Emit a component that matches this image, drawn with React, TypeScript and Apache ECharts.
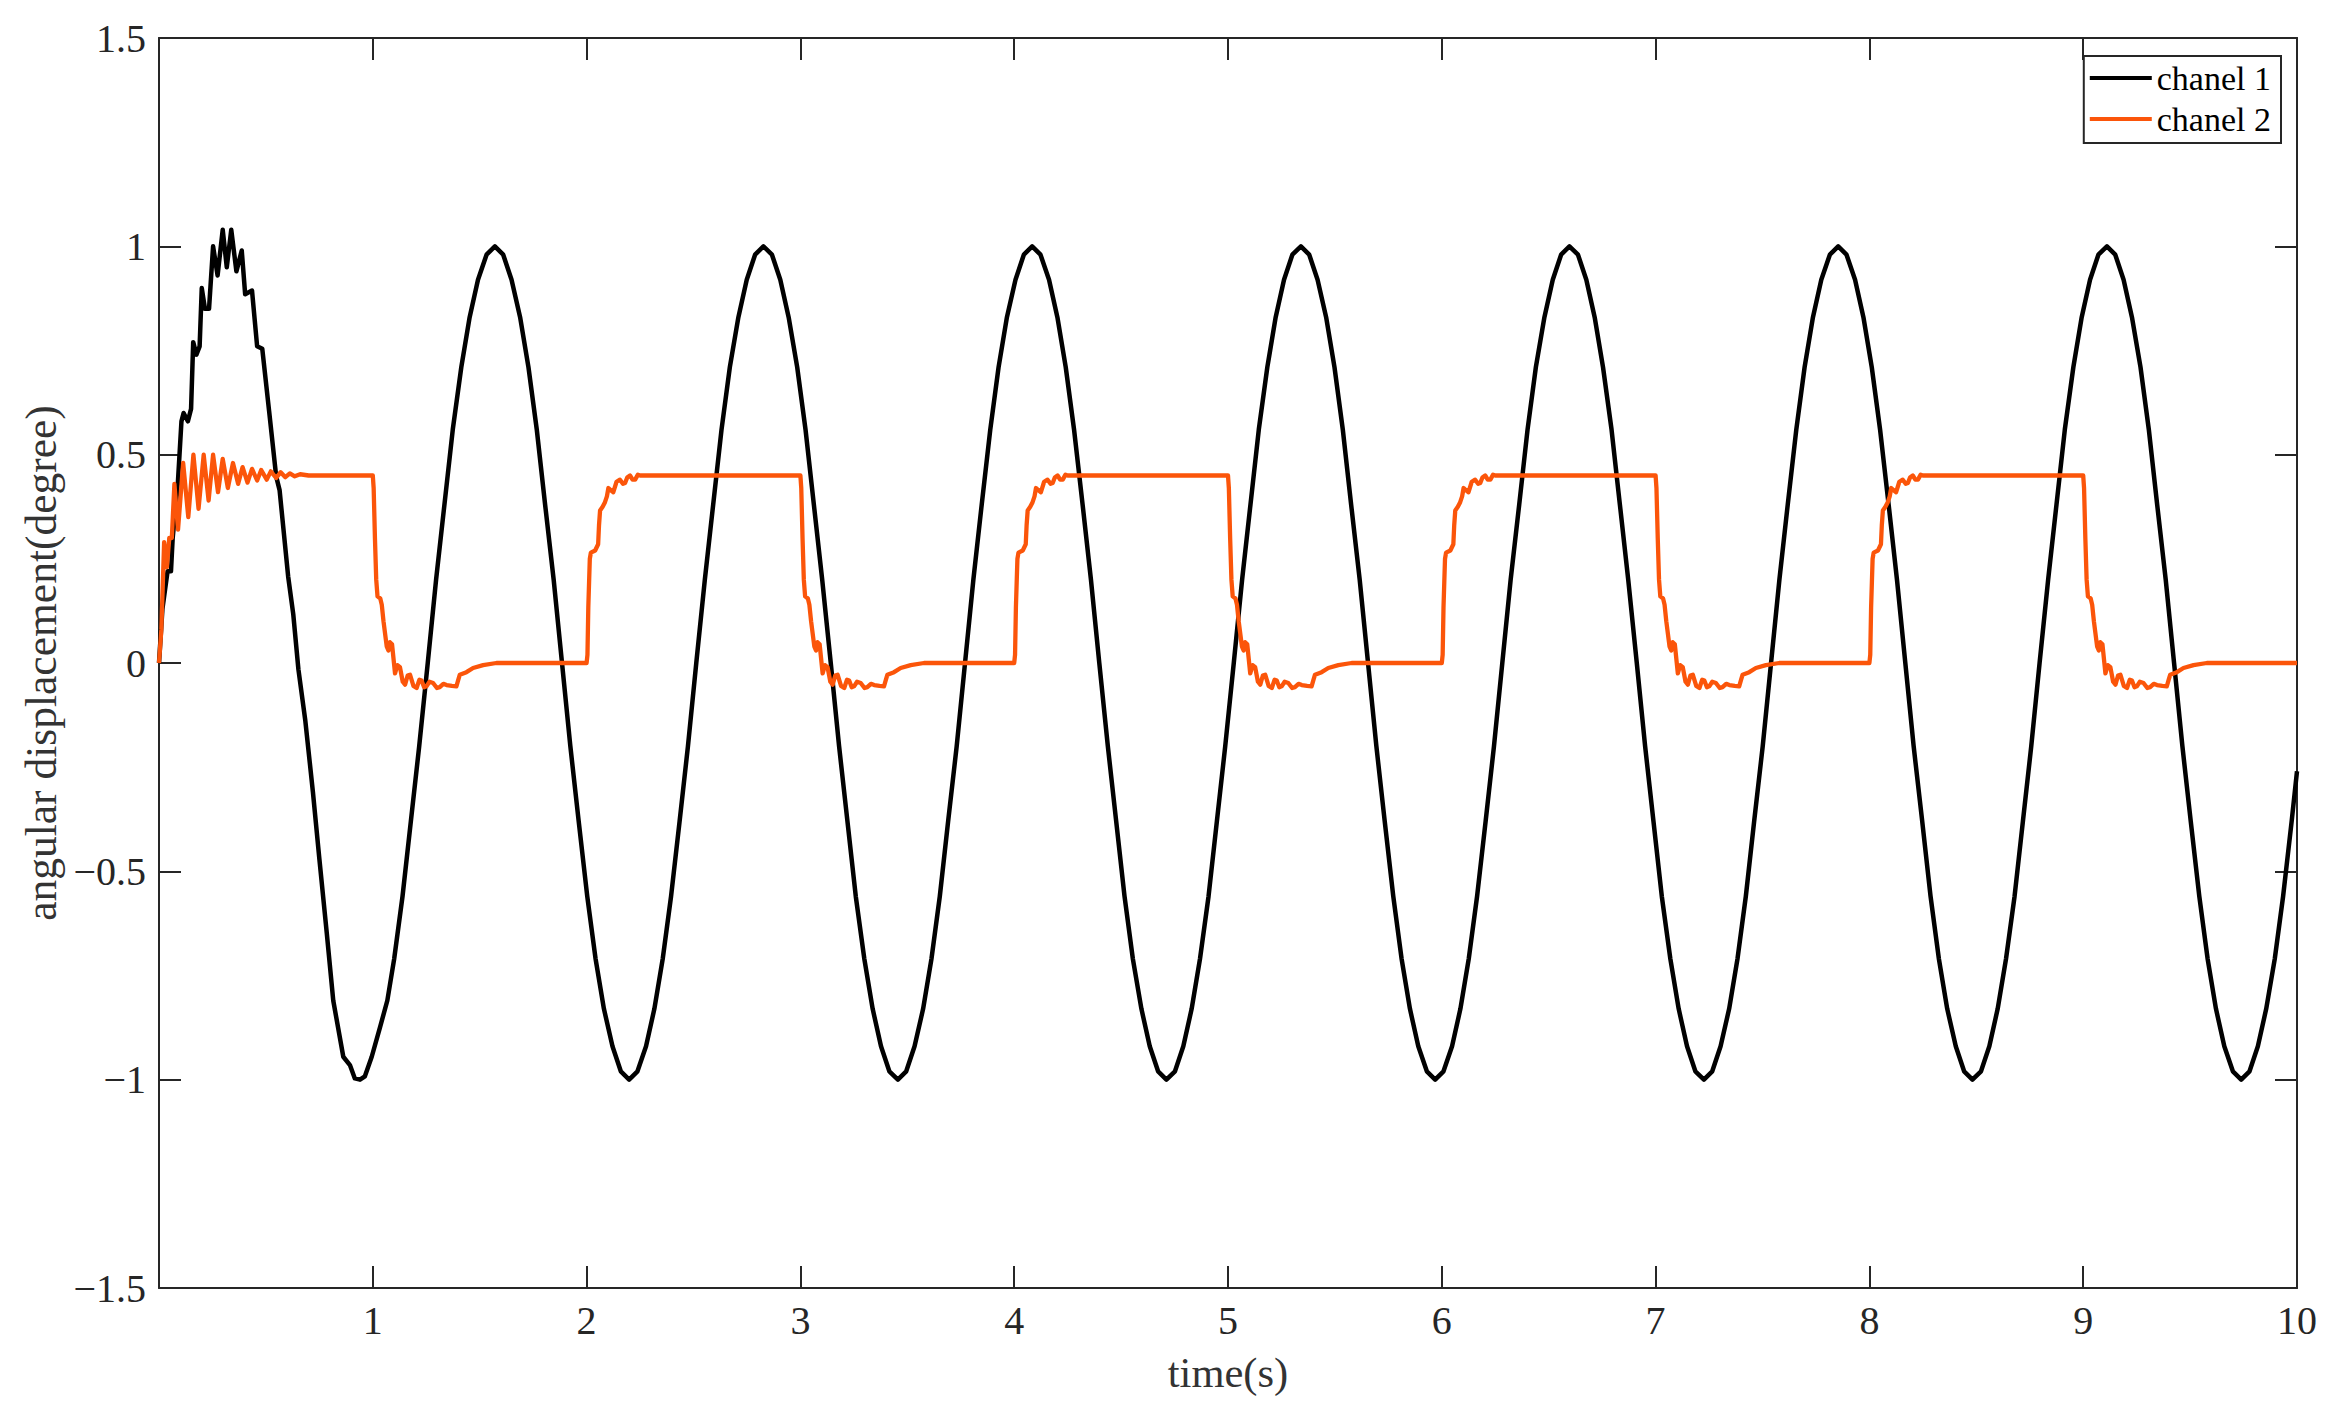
import React, { useEffect, useRef } from "react";
import * as echarts from "echarts";

const seriesNames = ["chanel 1", "chanel 2"];
const seriesColors = ["#000000", "#FB550A"];
const xAxisTitle = "time(s)";
const yAxisTitle = "angular displacement(degree)";
const xMin = 0;
const xMax = 10;
const xStep = 1;
const yMin = -1.5;
const yMax = 1.5;
const yStep = 0.5;

// chanel 1: [time, value] (noisy start-up, then the steady oscillation)
const chanel1Points: [number, number][] = [
  [0, 0], [0.016, 0.13], [0.04, 0.22], [0.056, 0.22], [0.064, 0.3], [0.088, 0.43],
  [0.105, 0.58], [0.115, 0.6], [0.135, 0.58], [0.15, 0.61], [0.16, 0.77], [0.175, 0.74],
  [0.19, 0.76], [0.2, 0.9], [0.215, 0.85], [0.234, 0.85], [0.253, 1.0], [0.274, 0.93],
  [0.298, 1.04], [0.317, 0.95], [0.338, 1.04], [0.362, 0.94], [0.387, 0.99], [0.403, 0.885],
  [0.435, 0.894], [0.459, 0.76], [0.483, 0.754], [0.515, 0.605], [0.548, 0.448], [0.564, 0.415],
  [0.604, 0.208], [0.628, 0.117], [0.652, -0.015], [0.684, -0.137], [0.72, -0.31], [0.75, -0.47],
  [0.785, -0.65], [0.815, -0.81], [0.862, -0.945], [0.893, -0.965], [0.916, -0.997], [0.94, -1.0],
  [0.963, -0.992], [0.995, -0.945], [1.034, -0.874], [1.068, -0.81],
  [1.1, -0.71], [1.139, -0.56], [1.178, -0.38], [1.217, -0.2], [1.257, 0], [1.296, 0.2], [1.335, 0.38], [1.374, 0.56],
  [1.414, 0.71], [1.453, 0.83], [1.492, 0.92], [1.532, 0.98], [1.571, 1], [1.61, 0.98], [1.649, 0.92], [1.689, 0.83],
  [1.728, 0.71], [1.767, 0.56], [1.806, 0.38], [1.846, 0.2], [1.885, 0], [1.924, -0.2], [1.963, -0.38], [2.003, -0.56],
  [2.042, -0.71], [2.081, -0.83], [2.121, -0.92], [2.16, -0.98], [2.199, -1], [2.238, -0.98], [2.278, -0.92], [2.317, -0.83],
  [2.356, -0.71], [2.395, -0.56], [2.435, -0.38], [2.474, -0.2], [2.513, 0], [2.553, 0.2], [2.592, 0.38], [2.631, 0.56],
  [2.67, 0.71], [2.71, 0.83], [2.749, 0.92], [2.788, 0.98], [2.827, 1], [2.867, 0.98], [2.906, 0.92], [2.945, 0.83],
  [2.985, 0.71], [3.024, 0.56], [3.063, 0.38], [3.102, 0.2], [3.142, 0], [3.181, -0.2], [3.22, -0.38], [3.259, -0.56],
  [3.299, -0.71], [3.338, -0.83], [3.377, -0.92], [3.416, -0.98], [3.456, -1], [3.495, -0.98], [3.534, -0.92], [3.574, -0.83],
  [3.613, -0.71], [3.652, -0.56], [3.691, -0.38], [3.731, -0.2], [3.77, 0], [3.809, 0.2], [3.848, 0.38], [3.888, 0.56],
  [3.927, 0.71], [3.966, 0.83], [4.006, 0.92], [4.045, 0.98], [4.084, 1], [4.123, 0.98], [4.163, 0.92], [4.202, 0.83],
  [4.241, 0.71], [4.28, 0.56], [4.32, 0.38], [4.359, 0.2], [4.398, 0], [4.438, -0.2], [4.477, -0.38], [4.516, -0.56],
  [4.555, -0.71], [4.595, -0.83], [4.634, -0.92], [4.673, -0.98], [4.712, -1], [4.752, -0.98], [4.791, -0.92], [4.83, -0.83],
  [4.869, -0.71], [4.909, -0.56], [4.948, -0.38], [4.987, -0.2], [5.027, 0], [5.066, 0.2], [5.105, 0.38], [5.144, 0.56],
  [5.184, 0.71], [5.223, 0.83], [5.262, 0.92], [5.301, 0.98], [5.341, 1], [5.38, 0.98], [5.419, 0.92], [5.459, 0.83],
  [5.498, 0.71], [5.537, 0.56], [5.576, 0.38], [5.616, 0.2], [5.655, 0], [5.694, -0.2], [5.733, -0.38], [5.773, -0.56],
  [5.812, -0.71], [5.851, -0.83], [5.89, -0.92], [5.93, -0.98], [5.969, -1], [6.008, -0.98], [6.048, -0.92], [6.087, -0.83],
  [6.126, -0.71], [6.165, -0.56], [6.205, -0.38], [6.244, -0.2], [6.283, 0], [6.322, 0.2], [6.362, 0.38], [6.401, 0.56],
  [6.44, 0.71], [6.48, 0.83], [6.519, 0.92], [6.558, 0.98], [6.597, 1], [6.637, 0.98], [6.676, 0.92], [6.715, 0.83],
  [6.754, 0.71], [6.794, 0.56], [6.833, 0.38], [6.872, 0.2], [6.912, 0], [6.951, -0.2], [6.99, -0.38], [7.029, -0.56],
  [7.069, -0.71], [7.108, -0.83], [7.147, -0.92], [7.186, -0.98], [7.226, -1], [7.265, -0.98], [7.304, -0.92], [7.344, -0.83],
  [7.383, -0.71], [7.422, -0.56], [7.461, -0.38], [7.501, -0.2], [7.54, 0], [7.579, 0.2], [7.618, 0.38], [7.658, 0.56],
  [7.697, 0.71], [7.736, 0.83], [7.775, 0.92], [7.815, 0.98], [7.854, 1], [7.893, 0.98], [7.933, 0.92], [7.972, 0.83],
  [8.011, 0.71], [8.05, 0.56], [8.09, 0.38], [8.129, 0.2], [8.168, 0], [8.207, -0.2], [8.247, -0.38], [8.286, -0.56],
  [8.325, -0.71], [8.364, -0.83], [8.404, -0.92], [8.443, -0.98], [8.482, -1], [8.522, -0.98], [8.561, -0.92], [8.6, -0.83],
  [8.639, -0.71], [8.679, -0.56], [8.718, -0.38], [8.757, -0.2], [8.796, 0], [8.836, 0.2], [8.875, 0.38], [8.914, 0.56],
  [8.954, 0.71], [8.993, 0.83], [9.032, 0.92], [9.071, 0.98], [9.111, 1], [9.15, 0.98], [9.189, 0.92], [9.228, 0.83],
  [9.268, 0.71], [9.307, 0.56], [9.346, 0.38], [9.386, 0.2], [9.425, 0], [9.464, -0.2], [9.503, -0.38], [9.543, -0.56],
  [9.582, -0.71], [9.621, -0.83], [9.66, -0.92], [9.7, -0.98], [9.739, -1], [9.778, -0.98], [9.817, -0.92], [9.856, -0.83],
  [9.896, -0.71], [9.935, -0.56], [9.975, -0.38], [10, -0.26],
];

// chanel 2: start-up transient [time, value]
const chanel2Start: [number, number][] = [
  [0, 0], [0.011, 0.08], [0.024, 0.29], [0.037, 0.23], [0.048, 0.3], [0.06, 0.3],
  [0.072, 0.43], [0.089, 0.32], [0.113, 0.48], [0.137, 0.35], [0.161, 0.5], [0.185, 0.37],
  [0.209, 0.5], [0.232, 0.39], [0.253, 0.5], [0.276, 0.41], [0.298, 0.49], [0.322, 0.42],
  [0.346, 0.48], [0.37, 0.43], [0.391, 0.47], [0.414, 0.433], [0.435, 0.466], [0.459, 0.438],
  [0.478, 0.463], [0.504, 0.44], [0.523, 0.46], [0.548, 0.444], [0.569, 0.458], [0.591, 0.446],
  [0.612, 0.455], [0.635, 0.448], [0.66, 0.453], [0.7, 0.45],
];
// chanel 2: shape of a falling step [seconds after the step, value]
const chanel2DropShape: [number, number][] = [
  [0, 0.45], [0.004, 0.42], [0.01, 0.3], [0.016, 0.2], [0.022, 0.16], [0.035, 0.155],
  [0.042, 0.14], [0.05, 0.1], [0.065, 0.04], [0.073, 0.03], [0.08, 0.05], [0.09, 0.045],
  [0.104, -0.025], [0.115, -0.005], [0.127, -0.01], [0.14, -0.045], [0.151, -0.052], [0.163, -0.03],
  [0.174, -0.028], [0.19, -0.055], [0.205, -0.06], [0.218, -0.04], [0.228, -0.042], [0.24, -0.058],
  [0.251, -0.056], [0.265, -0.045], [0.282, -0.048], [0.3, -0.06], [0.313, -0.058], [0.33, -0.05],
  [0.345, -0.053], [0.37, -0.055], [0.391, -0.056], [0.4, -0.04], [0.407, -0.028], [0.438, -0.022],
  [0.469, -0.012], [0.516, -0.005], [0.578, 0],
];
// chanel 2: shape of a rising step [seconds after the step, value]
const chanel2RiseShape: [number, number][] = [
  [0, 0], [0.004, 0.02], [0.008, 0.134], [0.015, 0.25], [0.02, 0.265], [0.04, 0.27],
  [0.054, 0.285], [0.058, 0.33], [0.063, 0.366], [0.075, 0.375], [0.086, 0.386], [0.095, 0.4],
  [0.102, 0.42], [0.112, 0.415], [0.125, 0.41], [0.14, 0.435], [0.156, 0.44], [0.17, 0.43],
  [0.18, 0.432], [0.19, 0.445], [0.203, 0.45], [0.215, 0.44], [0.227, 0.44], [0.24, 0.452],
  [0.25, 0.45], [0.3, 0.45],
];
const chanel2DropTimes = [1, 3, 5, 7, 9];
const chanel2RiseTimes = [2, 4, 6, 8];
const chanel2End: [number, number] = [10, 0];

function buildChanel2(): [number, number][] {
  const pts: [number, number][] = [...chanel2Start];
  chanel2DropTimes.forEach((t0, i) => {
    chanel2DropShape.forEach(([dt, v]) => pts.push([+(t0 + dt).toFixed(4), v]));
    const r = chanel2RiseTimes[i];
    if (r !== undefined) {
      chanel2RiseShape.forEach(([dt, v]) => pts.push([+(r + dt).toFixed(4), v]));
    }
  });
  pts.push(chanel2End);
  return pts;
}

const FONT = "'Liberation Serif', 'Times New Roman', serif";
const AXIS_COLOR = "#262626";

function fmtY(v: number): string {
  if (v < 0) return "\u2212" + String(Math.abs(v));
  return String(v);
}

export default function App() {
  const ref = useRef<HTMLDivElement>(null);
  useEffect(() => {
    document.body.style.margin = "0";
    if (!ref.current) return;
    const chart = echarts.init(ref.current, undefined, { renderer: "svg" });
    const tickCommon = {
      show: true,
      inside: true,
      length: 22,
      lineStyle: { color: AXIS_COLOR, width: 2 },
    };
    const lineCommon = {
      show: true,
      onZero: false,
      lineStyle: { color: AXIS_COLOR, width: 2 },
    };
    chart.setOption({
      animation: false,
      backgroundColor: "#ffffff",
      grid: { left: 159, right: 32, top: 38, bottom: 124, containLabel: false },
      legend: {
        data: seriesNames,
        orient: "vertical",
        right: 48,
        top: 56,
        icon: "rect",
        itemWidth: 62,
        itemHeight: 4,
        itemGap: 7,
        padding: [5, 10, 7, 6],
        borderColor: AXIS_COLOR,
        borderWidth: 2,
        backgroundColor: "#ffffff",
        textStyle: { fontFamily: FONT, fontSize: 34, lineHeight: 34, color: "#000000" },
      },
      xAxis: [
        {
          type: "value",
          min: xMin,
          max: xMax,
          interval: xStep,
          name: xAxisTitle,
          nameLocation: "middle",
          nameGap: 63,
          nameTextStyle: { fontFamily: FONT, fontSize: 42.5, color: "#333333" },
          axisLine: lineCommon,
          axisTick: tickCommon,
          axisLabel: {
            margin: 12,
            fontFamily: FONT,
            fontSize: 40,
            color: AXIS_COLOR,
            formatter: (v: number) => (v === 0 ? "" : String(v)),
          },
          splitLine: { show: false },
        },
        {
          type: "value",
          position: "top",
          min: xMin,
          max: xMax,
          interval: xStep,
          axisLine: lineCommon,
          axisTick: tickCommon,
          axisLabel: { show: false },
          splitLine: { show: false },
        },
      ],
      yAxis: [
        {
          type: "value",
          min: yMin,
          max: yMax,
          interval: yStep,
          name: yAxisTitle,
          nameLocation: "middle",
          nameGap: 88,
          nameTextStyle: { fontFamily: FONT, fontSize: 43.5, color: "#333333" },
          axisLine: lineCommon,
          axisTick: tickCommon,
          axisLabel: {
            margin: 13,
            fontFamily: FONT,
            fontSize: 40,
            color: AXIS_COLOR,
            formatter: fmtY,
          },
          splitLine: { show: false },
        },
        {
          type: "value",
          position: "right",
          min: yMin,
          max: yMax,
          interval: yStep,
          axisLine: lineCommon,
          axisTick: tickCommon,
          axisLabel: { show: false },
          splitLine: { show: false },
        },
      ],
      series: [
        {
          name: seriesNames[0],
          type: "line",
          xAxisIndex: 0,
          yAxisIndex: 0,
          data: chanel1Points,
          showSymbol: false,
          symbol: "none",
          color: seriesColors[0],
          lineStyle: { color: seriesColors[0], width: 4.5, join: "round" },
        },
        {
          name: seriesNames[1],
          type: "line",
          xAxisIndex: 0,
          yAxisIndex: 0,
          data: buildChanel2(),
          showSymbol: false,
          symbol: "none",
          color: seriesColors[1],
          lineStyle: { color: seriesColors[1], width: 4.3, join: "round" },
        },
      ],
    });
    return () => chart.dispose();
  }, []);
  return (
    <div
      ref={ref}
      style={{ position: "absolute", left: 0, top: 0, width: 2329, height: 1412 }}
    />
  );
}
